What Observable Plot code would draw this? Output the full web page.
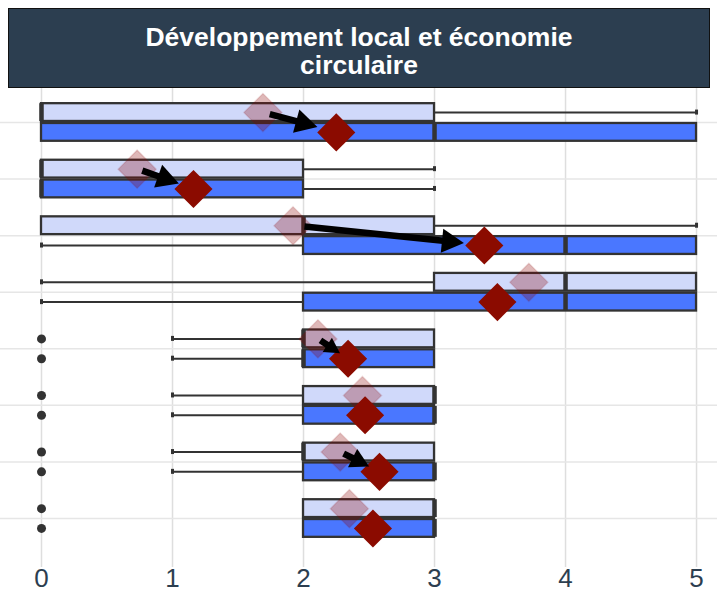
<!DOCTYPE html>
<html><head><meta charset="utf-8">
<script src="https://cdn.jsdelivr.net/npm/d3@7"></script>
<script src="https://cdn.jsdelivr.net/npm/@observablehq/plot@0.6"></script>
<style>
body{margin:0;background:#fff;font-family:"Liberation Sans",Arial,sans-serif;}
#strip{box-sizing:border-box;margin:8px 7px 0 8px;height:80px;padding-top:5px;background:#2C3E50;border:1px solid #111;color:#fff;font-weight:bold;font-size:26.5px;line-height:28px;text-align:center;display:flex;flex-direction:column;justify-content:center;}
#chart svg{display:block;}
</style></head><body>
<div id="strip"></div>
<div id="chart"></div>
<script>
const titleLines = ["Développement local et économie", "circulaire"];
const categories = ["Item 1","Item 2","Item 3","Item 4","Item 5","Item 6","Item 7","Item 8"];
// [lower whisker, Q1, median, Q3, upper whisker]
const beforeBox = [[0,0,0,3,5],[0,0,0,2,3],[0,0,2,3,5],[0,3,4,5,5],[1,2,2,3,3],[1,2,3,3,3],[1,2,2,3,3],[2,2,3,3,3]];
const afterBox  = [[0,0,3,5,5],[0,0,0,2,3],[0,2,4,5,5],[0,2,4,5,5],[1,2,2,3,3],[1,2,3,3,3],[1,2,3,3,3],[2,2,3,3,3]];
const beforeMean = [1.69,0.73,1.92,3.72,2.11,2.45,2.28,2.35];
const afterMean  = [2.25,1.16,3.38,3.48,2.34,2.47,2.58,2.53];
const beforeOutliers = [null,null,null,null,0,0,0,0];
const afterOutliers  = [null,null,null,null,0,0,0,0];
const arrowCategories = ["Item 1","Item 2","Item 3","Item 5","Item 7"];
const xTicks = [0,1,2,3,4,5];

const strip = document.getElementById("strip");
titleLines.forEach(t => { const d = document.createElement("div"); d.textContent = t; strip.appendChild(d); });

const W = 717, H = 505, MB = 26;
const PI = 0.3, PO = 0.383, ALIGN = 0.327;
const step = (H - MB) / (categories.length - PI + 2 * PO);
const bw = step * (1 - PI);
const half = bw / 2;
const off = half / 2;

function rows(box, mean, outl, group) {
  return categories.map((c, i) => ({cat: c, lo: box[i][0], q1: box[i][1], med: box[i][2], q3: box[i][3], hi: box[i][4], mean: mean[i], out: outl[i], group}));
}
const before = rows(beforeBox, beforeMean, beforeOutliers, "before");
const after = rows(afterBox, afterMean, afterOutliers, "after");

const diamond = {draw(ctx, size) { const h = Math.sqrt(size / 2); ctx.moveTo(0, -h); ctx.lineTo(h, 0); ctx.lineTo(0, h); ctx.lineTo(-h, 0); ctx.closePath(); }};

const boxStroke = "#333333";
const lavender = "#D0D9FA", blue = "#4A77FF";
const capH = 5;

function boxMarks(data, top) {
  const it = top ? 1 : half + 1, ib = top ? half + 1 : 1;
  const dy = top ? -off : off;
  const capTop = top ? off - capH/2 : half + off - capH/2;
  const capBot = bw - capTop - capH;
  const lowW = data.filter(d => d.lo < d.q1), hiW = data.filter(d => d.hi > d.q3);
  return [
    Plot.ruleY(lowW, {y: "cat", x1: "lo", x2: "q1", dy, stroke: boxStroke, strokeWidth: 2}),
    Plot.ruleY(hiW, {y: "cat", x1: "q3", x2: "hi", dy, stroke: boxStroke, strokeWidth: 2}),
    Plot.tickX(lowW, {y: "cat", x: "lo", insetTop: capTop, insetBottom: capBot, stroke: boxStroke, strokeWidth: 3}),
    Plot.tickX(hiW, {y: "cat", x: "hi", insetTop: capTop, insetBottom: capBot, stroke: boxStroke, strokeWidth: 3}),
    Plot.barX(data, {y: "cat", x1: "q1", x2: "q3", insetTop: it, insetBottom: ib, fill: top ? lavender : blue, stroke: boxStroke, strokeWidth: 2.3}),
    Plot.tickX(data, {y: "cat", x: "med", insetTop: it, insetBottom: ib, stroke: boxStroke, strokeWidth: 4.5}),
    Plot.dot(data.filter(d => d.out != null), {y: "cat", x: "out", dy, r: 4.5, fill: "#333333"})
  ];
}

const plot = Plot.plot({
  width: W, height: H,
  marginLeft: 0, marginRight: 0, marginTop: 0, marginBottom: MB,
  style: {fontSize: "26px", fontFamily: "'Liberation Sans', Arial, sans-serif", color: "#2C3E50", background: "#fff"},
  x: {domain: [-0.313, 5.16], ticks: xTicks, tickFormat: d3.format("d"), tickSize: 0, tickPadding: 1, label: null},
  y: {type: "band", domain: categories, paddingInner: PI, paddingOuter: PO, align: ALIGN, round: false, axis: null},
  marks: [
    Plot.ruleX(xTicks, {stroke: "#DEDEDE", strokeWidth: 1.5}),
    Plot.ruleY(categories, {stroke: "#E6E6E6", strokeWidth: 1.5}),
    ...boxMarks(before, true),
    ...boxMarks(after, false),
    Plot.dot(before, {y: "cat", x: "mean", dy: -off, r: 15.2, symbol: diamond, fill: "#8B0000", fillOpacity: 0.28, stroke: "#8B0000", strokeOpacity: 0.12, strokeWidth: 1.5}),
    Plot.dot(after, {y: "cat", x: "mean", dy: off, r: 15.2, symbol: diamond, fill: "#8B0B00"})
  ]
});
document.getElementById("chart").appendChild(plot);

// arrows from before mean to after mean, positioned through Plot's scales
const sx = plot.scale("x"), sy = plot.scale("y");
const svg = plot.tagName.toLowerCase() === "svg" ? plot : plot.querySelector("svg");
const g = d3.select(svg).append("g");
arrowCategories.forEach(c => {
  const i = categories.indexOf(c);
  const cy = sy.apply(c) + sy.bandwidth / 2;
  const p0 = [sx.apply(beforeMean[i]), cy - off], p1 = [sx.apply(afterMean[i]), cy + off];
  const dx = p1[0] - p0[0], dyv = p1[1] - p0[1];
  const len = Math.hypot(dx, dyv), ux = dx / len, uy = dyv / len, nx = -uy, ny = ux;
  const t0 = Math.min(12, 0.1 * len), t1 = Math.min(20, 0.25 * len);
  const tail = [p0[0] + ux * t0, p0[1] + uy * t0], tip = [p1[0] - ux * t1, p1[1] - uy * t1];
  const L = len - t0 - t1;
  const hl = Math.min(22, 0.65 * L), hw = hl * 0.55;
  const base = [tip[0] - ux * hl, tip[1] - uy * hl];
  g.append("line").attr("x1", tail[0]).attr("y1", tail[1]).attr("x2", base[0] + ux).attr("y2", base[1] + uy)
    .attr("stroke", "#000").attr("stroke-width", 6.5);
  g.append("path").attr("d", `M${tip[0]},${tip[1]}L${base[0] + nx * hw},${base[1] + ny * hw}L${base[0] - nx * hw},${base[1] - ny * hw}Z`)
    .attr("fill", "#000");
});
</script>
</body></html>
